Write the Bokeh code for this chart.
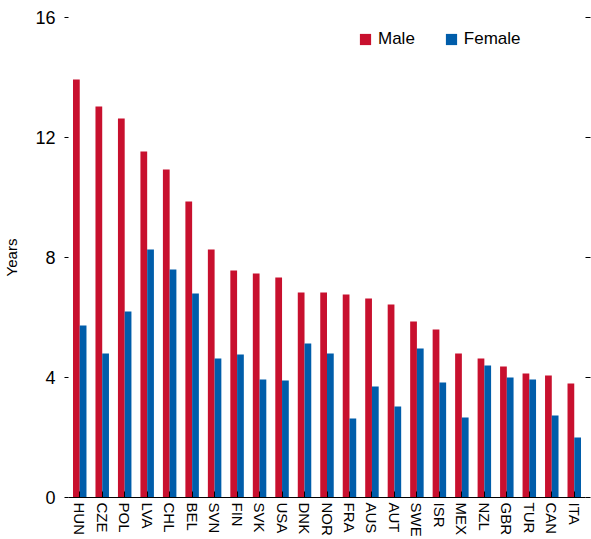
from bokeh.plotting import figure
from bokeh.models import FactorRange, Range1d, FixedTicker, LinearAxis, Legend, LegendItem, ColumnDataSource
from bokeh.transform import dodge
from bokeh.embed import file_html
from bokeh.resources import INLINE

countries = ["HUN", "CZE", "POL", "LVA", "CHL", "BEL", "SVN", "FIN", "SVK", "USA", "DNK", "NOR",
             "FRA", "AUS", "AUT", "SWE", "ISR", "MEX", "NZL", "GBR", "TUR", "CAN", "ITA"]
male = [13.93, 13.03, 12.63, 11.53, 10.93, 9.87, 8.27, 7.57, 7.47, 7.33, 6.83, 6.83,
        6.77, 6.63, 6.43, 5.87, 5.6, 4.8, 4.63, 4.37, 4.13, 4.07, 3.8]
female = [5.73, 4.8, 6.2, 8.27, 7.6, 6.8, 4.63, 4.77, 3.93, 3.9, 5.13, 4.8,
          2.63, 3.7, 3.03, 4.97, 3.83, 2.67, 4.4, 4.0, 3.93, 2.73, 2.0]
y_ticks = [0, 4, 8, 12, 16]

FONT = "Liberation Sans"
RED = "#C8102E"
BLUE = "#005DAA"

src = ColumnDataSource(dict(country=countries, male=male, female=female))

p = figure(width=591, height=539, x_range=FactorRange(factors=countries),
           y_range=Range1d(0, 16), output_backend="svg", toolbar_location=None,
           min_border_left=67, min_border_top=17, min_border_bottom=42, min_border_right=6)
p.outline_line_color = None
p.grid.grid_line_color = None

r_m = p.vbar(x=dodge("country", -0.15, range=p.x_range), top="male", width=0.3, bottom=0,
             source=src, fill_color=RED, line_color=None)
r_f = p.vbar(x=dodge("country", 0.15, range=p.x_range), top="female", width=0.3, bottom=0,
             source=src, fill_color=BLUE, line_color=None)

# x axis
xa = p.xaxis[0]
xa.major_label_orientation = "vertical"
xa.major_tick_in = 6
xa.major_tick_out = 0
xa.major_tick_line_color = "black"
xa.axis_line_color = "black"
xa.major_label_standoff = 5
xa.major_label_text_font = FONT
xa.major_label_text_font_size = "15px"
xa.major_label_text_color = "black"

# y axis
ya = p.yaxis[0]
ya.ticker = FixedTicker(ticks=y_ticks)
ya.axis_line_color = None
ya.major_tick_in = 0
ya.major_tick_out = 4
ya.minor_tick_line_color = None
ya.major_tick_line_color = "black"
ya.major_label_standoff = 9
ya.major_label_text_font = FONT
ya.major_label_text_font_size = "18px"
ya.major_label_text_color = "black"
ya.axis_label = "Years"
ya.axis_label_text_font = FONT
ya.axis_label_text_font_size = "15px"
ya.axis_label_text_font_style = "normal"
ya.axis_label_text_color = "black"
ya.axis_label_standoff = 12

ra = LinearAxis(ticker=FixedTicker(ticks=y_ticks))
ra.axis_line_color = None
ra.major_tick_in = 0
ra.major_tick_out = 5
ra.minor_tick_line_color = None
ra.major_tick_line_color = "black"
ra.major_label_overrides = {t: "" for t in y_ticks}
ra.major_label_standoff = 0
p.add_layout(ra, "right")

legend = Legend(items=[LegendItem(label="Male", renderers=[r_m]),
                       LegendItem(label="Female", renderers=[r_f])],
                orientation="horizontal", location=(290, 448))
legend.border_line_color = None
legend.background_fill_color = None
legend.padding = 0
legend.margin = 0
legend.spacing = 29
legend.glyph_width = 14
legend.glyph_height = 14
legend.label_standoff = 6
legend.label_text_font = FONT
legend.label_text_font_size = "17px"
legend.label_text_color = "black"
p.add_layout(legend, "center")

open("out.html", "w").write(file_html(p, INLINE))
